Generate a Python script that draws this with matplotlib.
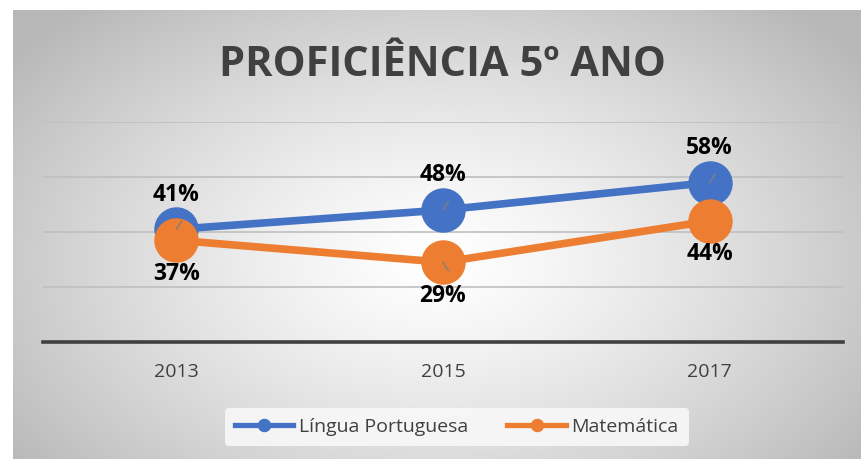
import numpy as np
from matplotlib import pyplot as plt

years = ['2013', '2015', '2017']
portugues = [41, 48, 58]
matematica = [37, 29, 44]
series_names = ['Língua Portuguesa', 'Matemática']
title = 'PROFICIÊNCIA 5º ANO'

blue = '#4472C4'
orange = '#ED7D31'

plt.rcParams['font.family'] = ['Open Sans', 'DejaVu Sans']

W, H = 861, 459
fig = plt.figure(figsize=(W / 100, H / 100), dpi=100)
fig.patch.set_facecolor('white')

# radial gradient background of the chart area
bg = fig.add_axes([13 / W, 0, (W - 13) / W, (H - 10) / H])
yy, xx = np.mgrid[0:449, 0:848]
r = np.sqrt(((xx - 424) / 520.0) ** 2 + ((yy - 250) / 330.0) ** 2)
shade = np.clip(1.0 - 0.27 * r ** 1.3, 0.72, 1.0)
bg.imshow(np.dstack([shade] * 3), aspect='auto', extent=[0, 1, 0, 1])
bg.axis('off')

ax = fig.add_axes([43 / W, (H - 342) / H, 800 / W, 220 / H])
ax.patch.set_alpha(0)
x = np.arange(len(years))
ax.set_xlim(-0.5, 2.5)
ax.set_ylim(0, 80)
for g in [20, 40, 60, 80]:
    ax.axhline(g, color='#bfbfbf', lw=1.2, zorder=1)
ax.axhline(0, color='#404040', lw=2.6, zorder=1, clip_on=False)

ax.plot(x, portugues, color=blue, lw=5.5, marker='o', ms=31, label=series_names[0], zorder=3)
ax.plot(x, matematica, color=orange, lw=5.5, marker='o', ms=31, label=series_names[1], zorder=4)

for xi, v in zip(x, portugues):
    ax.annotate(f'{v}%', (xi, v), xytext=(0, 25), textcoords='offset points',
                ha='center', va='center', fontsize=16.5, fontweight='bold', color='black', zorder=6)
    ax.plot([xi, xi + 0.02], [v, v + 3], color='#808080', lw=1, zorder=5)
for xi, v in zip(x, matematica):
    ax.annotate(f'{v}%', (xi, v), xytext=(0, -24), textcoords='offset points',
                ha='center', va='center', fontsize=16.5, fontweight='bold', color='black', zorder=6)
ax.plot([x[1], x[1] + 0.02], [matematica[1], matematica[1] - 3], color='#808080', lw=1, zorder=5)

ax.set_xticks(x)
ax.set_xticklabels(years, fontsize=14, color='#404040')
ax.tick_params(axis='x', length=0, pad=15)
ax.set_yticks([])
for s in ax.spines.values():
    s.set_visible(False)

fig.text(442 / W, 1 - 66 / H, title, ha='center', va='center', fontsize=30,
         fontweight='bold', color='#404040')

leg = fig.legend(loc='center', bbox_to_anchor=(457 / W, 1 - 427 / H), ncol=2,
                 fontsize=14, frameon=True, handlelength=3, markerscale=0.28,
                 columnspacing=2, borderpad=0.5, handletextpad=0.3)
leg.get_frame().set_facecolor('#f8f8f8')
leg.get_frame().set_edgecolor('none')
leg.get_frame().set_alpha(0.9)
for ln in leg.get_lines():
    ln.set_linewidth(3.8)
for t in leg.get_texts():
    t.set_color('#404040')

fig.savefig('out.png', dpi=100)
